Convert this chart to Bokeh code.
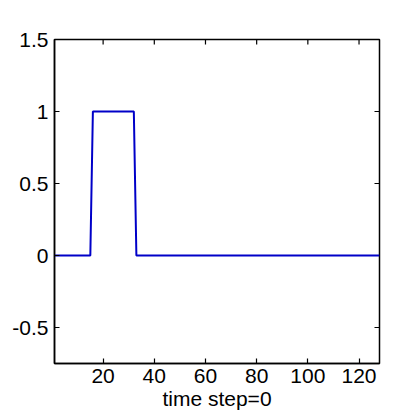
import math
from bokeh.plotting import figure
from bokeh.models import LinearAxis, Range1d, FixedTicker
from bokeh.embed import file_html
from bokeh.resources import INLINE

# step signal at time step 0 (corner points of the pulse)
x_vals = [1, 15, 16, 32, 33, 128]
y_vals = [0, 0, 1, 1, 0, 0]
x_ticks = [20, 40, 60, 80, 100, 120]
y_ticks = [-0.5, 0, 0.5, 1, 1.5]
y_tick_labels = ["-0.5", "0", "0.5", "1", "1.5"]
x_label = "time step=0"
x_min, x_max = 1, 128
y_min, y_max = -0.75, 1.5

FONT = "Liberation Sans"
FS = "21px"

p = figure(width=411, height=412, output_backend="svg", toolbar_location=None,
           x_range=Range1d(x_min, x_max), y_range=Range1d(y_min, y_max),
           min_border_left=54, min_border_top=39, min_border_right=32, min_border_bottom=48,
           x_axis_location=None, y_axis_location=None)
p.grid.visible = False
p.background_fill_color = "white"
p.border_fill_color = "white"
p.outline_line_color = "black"
p.outline_line_width = 1.5

def style(ax, ticks):
    ax.ticker = FixedTicker(ticks=ticks)
    ax.major_tick_in = 5
    ax.major_tick_out = 0
    ax.minor_tick_line_color = None
    ax.major_tick_line_color = "black"
    ax.major_tick_line_width = 1.2
    ax.axis_line_color = "black"
    ax.axis_line_width = 1.5
    ax.major_label_text_font = FONT
    ax.major_label_text_color = "black"
    ax.major_label_text_font_size = FS

xb = LinearAxis(axis_label=x_label)
style(xb, x_ticks)
xb.major_label_standoff = 5
xb.axis_label_standoff = 1
xb.axis_label_text_font = FONT
xb.axis_label_text_font_size = FS
xb.axis_label_text_font_style = "normal"
xb.axis_label_text_color = "black"
p.add_layout(xb, "below")

yl = LinearAxis()
style(yl, y_ticks)
yl.major_label_standoff = 6
yl.major_label_overrides = {t: s for t, s in zip(y_ticks, y_tick_labels)}
p.add_layout(yl, "left")

# inward ticks on the top and right edges of the box
p.scatter(x_ticks, [y_max] * len(x_ticks), marker="dash", size=10, angle=math.pi / 2,
          line_color="black", line_width=1.2)
p.scatter([x_max] * len(y_ticks), y_ticks, marker="dash", size=10,
          line_color="black", line_width=1.2)

p.line(x_vals, y_vals, line_color="#0000C8", line_width=2)

open("out.html", "w").write(file_html(p, INLINE))
